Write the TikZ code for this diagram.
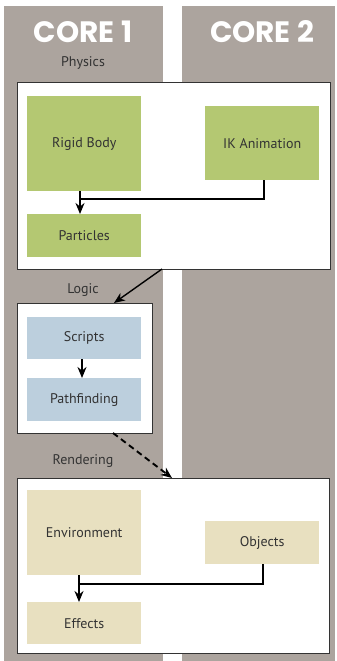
\documentclass[tikz,border=0pt]{standalone}
\usepackage{fontspec}
\setmainfont{PT Sans}
\newfontfamily\corefont{Poppins}
\usetikzlibrary{arrows.meta}
\definecolor{colgray}{HTML}{ACA49E}
\definecolor{physgreen}{HTML}{B4C872}
\definecolor{logicblue}{HTML}{BCCFDD}
\definecolor{rendbeige}{HTML}{E8E0C0}
\definecolor{txt}{HTML}{333333}
\tikzset{
  px/.style={x=1pt,y=-1pt},
  column/.style={fill=colgray,draw=none},
  group/.style={fill=white,draw=black!80,line width=0.9pt},
  task/.style={draw=none,anchor=north west,inner sep=0pt},
  tasktext/.style={text=txt,font=\fontsize{14}{16}\selectfont},
  corelabel/.style={text=white,font=\corefont\bfseries\fontsize{29.5}{32}\selectfont},
  grouplabel/.style={text=txt,font=\fontsize{14}{16}\selectfont},
  flow/.style={line width=1.4pt,-{Stealth[length=11pt,width=9pt,inset=3.5pt]}},
  feed/.style={line width=1.4pt},
}
\begin{document}
\begin{tikzpicture}[px]
\useasboundingbox (0,0) rectangle (337,661);
\fill[white] (0,0) rectangle (337,661);
% the two core columns
\fill[column] (4,6) rectangle (163,661);
\fill[column] (182,6) rectangle (335,661);
\node[corelabel] (core1) at (83,32) {CORE 1};
\node[corelabel] (core2) at (262,32) {CORE 2};

% Physics
\node[grouplabel] (lphys) at (83,63) {Physics};
\draw[group] (17,82) rectangle (330,269);
\coordinate (physS) at (162,269);
\node[task,fill=physgreen,minimum width=114pt,minimum height=95pt] (rigid) at (27,96) {};
\node[tasktext] at (rigid.center) {Rigid Body};
\node[task,fill=physgreen,minimum width=114pt,minimum height=74pt] (ik) at (205,106) {};
\node[tasktext] at (ik.center) {IK Animation};
\node[task,fill=physgreen,minimum width=114pt,minimum height=43pt] (part) at (27,214) {};
\node[tasktext] at (part.center) {Particles};
\coordinate (j1) at (80,199);
\draw[flow] (rigid.south -| j1) -- (part.north -| j1);
\draw[feed] (ik.south -| 264,0) |- (j1);

% Logic
\node[grouplabel] (llogic) at (83,290) {Logic};
\draw[group] (17,303) rectangle (152,433);
\coordinate (logicN) at (114,303);
\coordinate (logicS) at (113,433);
\node[task,fill=logicblue,minimum width=114pt,minimum height=42pt] (scripts) at (27,317) {};
\node[tasktext] at (scripts.center) {Scripts};
\node[task,fill=logicblue,minimum width=114pt,minimum height=43pt] (path) at (27,378) {};
\node[tasktext] at (path.center) {Pathfinding};
\draw[flow] (scripts.south -| 82,0) -- (path.north -| 82,0);
\draw[flow] (physS) -- (logicN);

% Rendering
\node[grouplabel] (lrend) at (83,461) {Rendering};
\draw[group] (17,478) rectangle (329,653);
\coordinate (rendN) at (172,478);
\node[task,fill=rendbeige,minimum width=114pt,minimum height=85pt] (env) at (27,490) {};
\node[tasktext] at (env.center) {Environment};
\node[task,fill=rendbeige,minimum width=114pt,minimum height=43pt] (obj) at (205,521) {};
\node[tasktext] at (obj.center) {Objects};
\node[task,fill=rendbeige,minimum width=114pt,minimum height=42pt] (eff) at (27,602) {};
\node[tasktext] at (eff.center) {Effects};
\coordinate (j2) at (79,584);
\draw[flow] (env.south -| j2) -- (eff.north -| j2);
\draw[feed] (obj.south -| 263,0) |- (j2);
\draw[flow,line width=1.9pt,dash pattern=on 6pt off 4pt] (logicS) -- (rendN);
\end{tikzpicture}
\end{document}
